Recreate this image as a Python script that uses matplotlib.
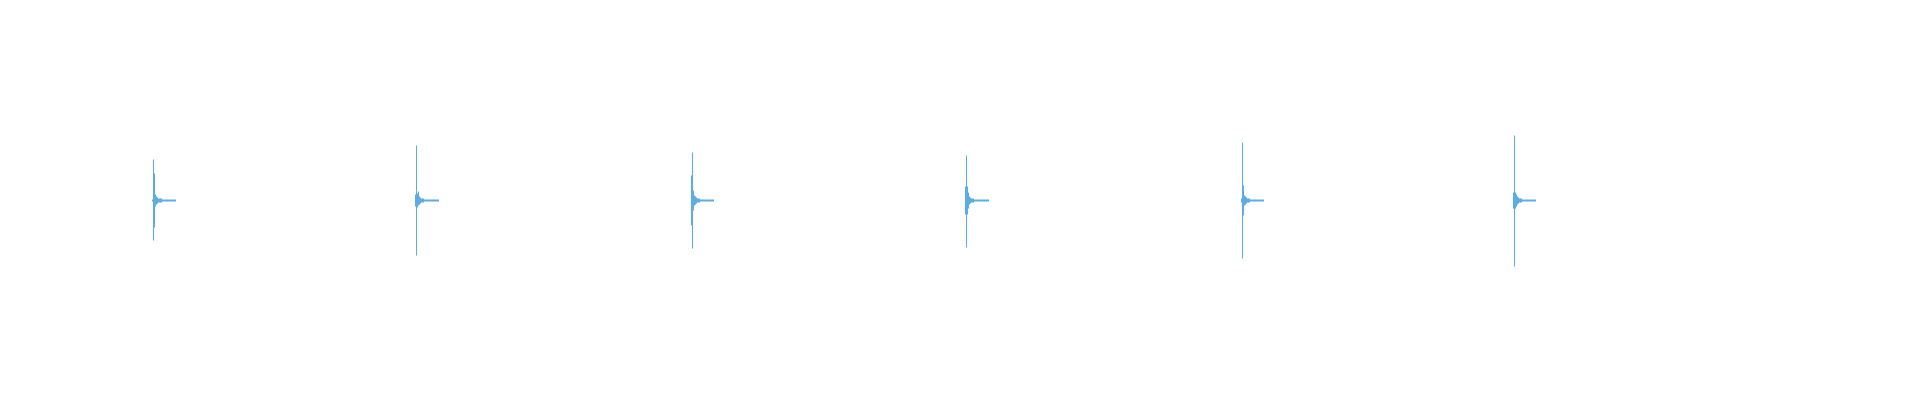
import numpy as np
import matplotlib
matplotlib.use("Agg")
import matplotlib.pyplot as plt

# ==========================================
# DATA
# ==========================================
SAMPLE_STEP = 0.01          # seconds per envelope column
DURATION = 19.2             # seconds shown

# onset of each click (seconds)
ONSETS = [1.53, 4.16, 6.92, 9.66, 12.42, 15.14]

# envelope columns, starting one column before the onset
ENV_UP = [
    [0.005, 0.203, 0.135, 0.030, 0.020, 0.015, 0.012, 0.010, 0.008, 0.008, 0.006, 0.005, 0.005],
    [0.032, 0.273, 0.033, 0.045, 0.020, 0.015, 0.012, 0.010, 0.008, 0.007, 0.006, 0.005, 0.005],
    [0.125, 0.242, 0.050, 0.025, 0.018, 0.014, 0.012, 0.010, 0.008, 0.007, 0.006, 0.005, 0.005],
    [0.068, 0.225, 0.068, 0.040, 0.020, 0.015, 0.012, 0.010, 0.008, 0.007, 0.006, 0.005, 0.005],
    [0.010, 0.292, 0.073, 0.025, 0.018, 0.014, 0.012, 0.010, 0.008, 0.007, 0.006, 0.005, 0.005],
    [0.038, 0.325, 0.038, 0.030, 0.020, 0.015, 0.012, 0.010, 0.008, 0.007, 0.006, 0.005, 0.005],
]
ENV_DOWN = [
    [0.005, 0.200, 0.135, 0.028, 0.020, 0.015, 0.012, 0.010, 0.008, 0.008, 0.006, 0.005, 0.005],
    [0.032, 0.277, 0.033, 0.025, 0.020, 0.015, 0.012, 0.010, 0.008, 0.007, 0.006, 0.005, 0.005],
    [0.125, 0.240, 0.050, 0.025, 0.018, 0.014, 0.012, 0.010, 0.008, 0.007, 0.006, 0.005, 0.005],
    [0.068, 0.233, 0.068, 0.040, 0.020, 0.015, 0.012, 0.010, 0.008, 0.007, 0.006, 0.005, 0.005],
    [0.010, 0.292, 0.073, 0.025, 0.018, 0.014, 0.012, 0.010, 0.008, 0.007, 0.006, 0.005, 0.005],
    [0.038, 0.328, 0.038, 0.030, 0.020, 0.015, 0.012, 0.010, 0.008, 0.007, 0.006, 0.005, 0.005],
]
TAIL_LEVEL = 0.004          # residual ringing after the envelope columns
TAIL_COLUMNS = [11, 11, 10, 11, 10, 10]

WAVE_COLOR = "#5dade2"

fig = plt.figure(figsize=(19.2, 4.0), dpi=100)
ax = fig.add_axes([0, 0, 1, 1])

for onset, up, down, n_tail in zip(ONSETS, ENV_UP, ENV_DOWN, TAIL_COLUMNS):
    up = list(up) + [TAIL_LEVEL] * n_tail
    down = list(down) + [TAIL_LEVEL] * n_tail
    t = onset + SAMPLE_STEP * (np.arange(len(up)) - 1)
    ax.vlines(t, -np.array(down), np.array(up), colors=WAVE_COLOR, linewidth=0.75)

ax.set_xlim(0, DURATION)
ax.set_ylim(-1.0, 1.0)
ax.axis("off")

fig.savefig("out.png", dpi=100, facecolor="white")
